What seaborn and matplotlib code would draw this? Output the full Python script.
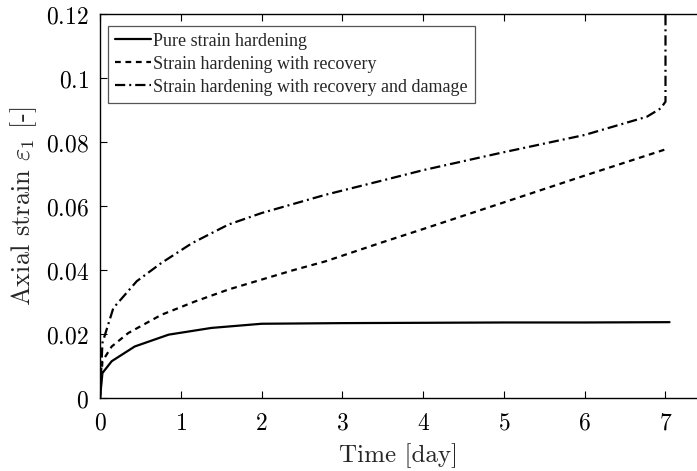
import numpy as np
import pandas as pd
import matplotlib
matplotlib.use("Agg")
import matplotlib.pyplot as plt
import seaborn as sns
from matplotlib.ticker import FuncFormatter, MultipleLocator

# Creep response curves (time in days, axial strain)
t_pure = [0.0, 0.03, 0.145, 0.43, 0.85, 1.38, 2.0, 3.0, 4.0, 5.0, 6.0, 7.05]
e_pure = [0.0, 0.0078, 0.0115, 0.0161, 0.0198, 0.0219, 0.0232, 0.0234, 0.0235, 0.0236, 0.0236, 0.0237]

t_recov = [0.0, 0.03, 0.145, 0.35, 0.76, 1.18, 1.59, 2.0, 2.4, 2.79, 3.5, 4.0, 4.96, 6.0, 7.0]
e_recov = [0.0, 0.0115, 0.0161, 0.0203, 0.0260, 0.0302, 0.0339, 0.0370, 0.0400, 0.0427, 0.0487, 0.0528, 0.0608, 0.0695, 0.0777]

t_damage = [0.0, 0.03, 0.165, 0.455, 0.76, 1.14, 1.59, 2.0, 2.79, 3.5, 4.0, 4.96, 6.0, 6.77, 6.94, 7.0, 7.0]
e_damage = [0.0, 0.0172, 0.0281, 0.0365, 0.0422, 0.0484, 0.0542, 0.0578, 0.0635, 0.0680, 0.0712, 0.0766, 0.0822, 0.0879, 0.0905, 0.0926, 0.1300]

labels = ["Pure strain hardening",
          "Strain hardening with recovery",
          "Strain hardening with recovery and damage"]

df = pd.concat([
    pd.DataFrame({"t": t_pure, "e": e_pure, "model": labels[0]}),
    pd.DataFrame({"t": t_recov, "e": e_recov, "model": labels[1]}),
    pd.DataFrame({"t": t_damage, "e": e_damage, "model": labels[2]}),
], ignore_index=True)

sns.set_style("white")
plt.rcParams["mathtext.fontset"] = "cm"
plt.rcParams["axes.unicode_minus"] = False

fig = plt.figure(figsize=(6.97, 4.71), dpi=100)
ax = fig.add_axes([100 / 697, 73 / 471, 597 / 697, 384 / 471])

sns.lineplot(data=df, x="t", y="e", style="model", style_order=labels,
             dashes={labels[0]: "", labels[1]: (2.6, 2.1), labels[2]: (4.6, 1.8, 0.9, 1.8)},
             color="black", linewidth=1.6, estimator=None, sort=False, ax=ax)

ax.set_xlim(0, 7.39)
ax.set_ylim(0, 0.12)
ax.xaxis.set_major_locator(MultipleLocator(1))
ax.yaxis.set_major_locator(MultipleLocator(0.02))
ax.xaxis.set_major_formatter(FuncFormatter(lambda v, p: f"${v:g}$"))
ax.yaxis.set_major_formatter(FuncFormatter(lambda v, p: f"${round(v, 3):g}$"))

for side in ["left", "bottom", "top"]:
    ax.spines[side].set_visible(True)
    ax.spines[side].set_color("black")
    ax.spines[side].set_linewidth(1.0)
ax.spines["right"].set_visible(False)

ax.tick_params(axis="both", direction="in", length=5, width=0.8, labelsize=17,
               top=True, bottom=True, left=True, right=False, colors="black")
ax.tick_params(axis="x", pad=9)
ax.tick_params(axis="y", pad=8)

ax.set_xlabel("Time [day]", fontfamily="cmr10", fontsize=18, labelpad=6)
ax.set_ylabel(r"Axial strain $\varepsilon_1$ [-]", fontfamily="cmr10", fontsize=19, labelpad=5)

leg = ax.legend(loc="upper left", bbox_to_anchor=(0.013, 0.969),
                prop={"family": "Liberation Serif", "size": 13},
                handlelength=2.0, handletextpad=0.15, borderpad=0.38,
                labelspacing=0.33, fancybox=False, framealpha=1, borderaxespad=0)
leg.get_frame().set_edgecolor("#555555")
leg.get_frame().set_linewidth(0.9)

fig.savefig("out.png", dpi=100)
